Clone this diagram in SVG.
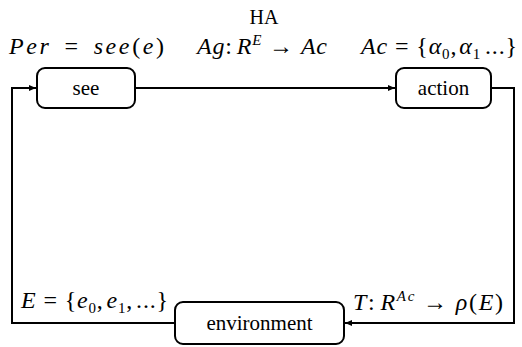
<svg xmlns="http://www.w3.org/2000/svg" width="522" height="347" viewBox="0 0 522 347">
<style>
.box{fill:#fff;stroke:#000;stroke-width:2}
.lbl{font-family:'Liberation Serif',serif;font-size:21px;fill:#000;text-anchor:middle}
.m{font-family:'Liberation Serif',serif;font-size:24px;font-style:italic;fill:#000}
.u{font-style:normal}
.s{font-size:15px}
.conn{fill:none;stroke:#000;stroke-width:2}
</style>
<defs>
<marker id="ah" markerWidth="8" markerHeight="8" refX="7" refY="4" orient="auto" markerUnits="userSpaceOnUse">
<path d="M0,1 L7,4 L0,7 Z" fill="#000"/>
</marker>
</defs>
<text x="264" y="24" class="lbl" style="font-size:20px">HA</text>
<g id="connectors">
<path class="conn" d="M135,88 H395" marker-end="url(#ah)"/>
<path class="conn" d="M491,88 H514 V323 H345" marker-end="url(#ah)"/>
<path class="conn" d="M175,323 H12 V88 H36" marker-end="url(#ah)"/>
</g>
<g id="see">
<rect class="box" x="37" y="68" width="98" height="40" rx="8"/>
<text x="86" y="95" class="lbl">see</text>
</g>
<g id="action">
<rect class="box" x="396" y="68" width="95" height="40" rx="8"/>
<text x="443.5" y="95" class="lbl">action</text>
</g>
<g id="environment">
<rect class="box" x="175" y="302" width="169" height="42" rx="8"/>
<text x="259.5" y="330" class="lbl">environment</text>
</g>
<text class="m" x="9" y="54" textLength="155" lengthAdjust="spacing">Per<tspan class="u" dx="13">=</tspan><tspan dx="13">see</tspan><tspan class="u">(</tspan>e<tspan class="u">)</tspan></text>
<text class="m" x="197" y="54" textLength="130" lengthAdjust="spacing">Ag<tspan class="u">:</tspan><tspan dx="4">R</tspan><tspan class="s" dy="-9">E</tspan><tspan class="u" dy="9" dx="7">→</tspan><tspan dx="7">Ac</tspan></text>
<text class="m" x="361" y="54" textLength="156" lengthAdjust="spacing">Ac<tspan class="u" dx="7">=</tspan><tspan class="u" dx="7">{</tspan>α<tspan class="s u" dy="5">0</tspan><tspan class="u" dy="-5">,</tspan><tspan dx="2">α</tspan><tspan class="s u" dy="5">1</tspan><tspan class="u" dy="-5" dx="4">...}</tspan></text>
<text class="m" x="21" y="308" textLength="147" lengthAdjust="spacing">E<tspan class="u" dx="7">=</tspan><tspan class="u" dx="7">{</tspan>e<tspan class="s u" dy="5">0</tspan><tspan class="u" dy="-5">,</tspan><tspan dx="3">e</tspan><tspan class="s u" dy="5">1</tspan><tspan class="u" dy="-5">,</tspan><tspan class="u" dx="3">...}</tspan></text>
<text class="m" x="353" y="310" textLength="150" lengthAdjust="spacing">T<tspan class="u">:</tspan><tspan dx="4">R</tspan><tspan class="s" dy="-9">Ac</tspan><tspan class="u" dy="9" dx="7">→</tspan><tspan dx="7">ρ</tspan><tspan class="u">(</tspan>E<tspan class="u">)</tspan></text>
</svg>
